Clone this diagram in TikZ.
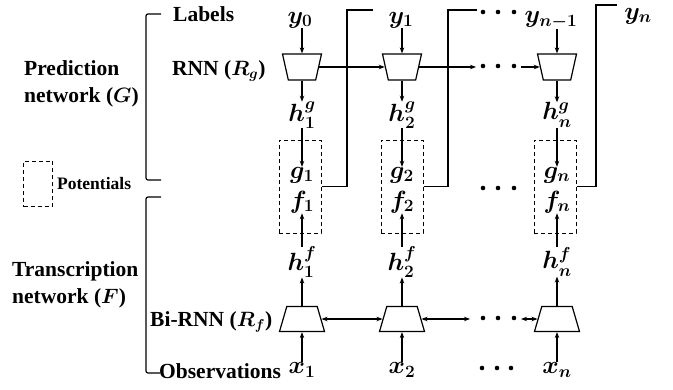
\documentclass[tikz,border=0pt]{standalone}
\usepackage{fontspec}
\setmainfont{Liberation Serif}
\usepackage{amsmath}
\usetikzlibrary{shapes.geometric,arrows.meta}
\begin{document}
\begin{tikzpicture}[x=1pt,y=-1pt,
  lbl/.style={font=\fontsize{21.5}{27}\selectfont\bfseries\boldmath, inner sep=0pt},
  potlbl/.style={font=\fontsize{17.5}{19}\selectfont\bfseries, inner sep=0pt},
  var/.style={font=\fontsize{27}{29}\selectfont\boldmath, inner sep=0pt},
  rnnbox/.style={draw, trapezium, trapezium stretches=true, inner sep=1pt, line width=1.2pt, minimum width=39pt, minimum height=26pt, trapezium angle=78, shape border rotate=180},
  birnnbox/.style={draw, trapezium, trapezium stretches=true, inner sep=1pt, line width=1.2pt, minimum width=45pt, minimum height=25pt, trapezium angle=76.5},
  potbox/.style={draw, dash pattern=on 4pt off 3pt, line width=1pt, minimum width=42pt, minimum height=93pt, inner sep=0pt},
  arr/.style={-{Stealth[length=6pt,width=4.5pt]}, line width=1.2pt},
  darr/.style={{Stealth[length=6pt,width=4.5pt]}-{Stealth[length=6pt,width=4.5pt]}, line width=1.2pt},
  wire/.style={line width=1.2pt}
]
\useasboundingbox (0,0) rectangle (673,389);

% label row
\node[var] (y0) at (300,20) {$y_0$};
\node[var] (y1) at (401,20) {$y_1$};
\node[var] (yn1) at (551,20) {$y_{n-1}$};
\node[var] (yn) at (638,16) {$y_n$};

% RNN (R_g)
\node[rnnbox] (rg1) at (302,67) {};
\node[rnnbox] (rg2) at (402,67) {};
\node[rnnbox] (rgn) at (557,67) {};

% h^g
\node[var] (hg1) at (302,115) {$h_1^g$};
\node[var] (hg2) at (402,115) {$h_2^g$};
\node[var] (hgn) at (557,115) {$h_n^g$};

% potentials
\node[potbox] (p1) at (300,186.5) {};
\node[potbox] (p2) at (402,186.5) {};
\node[potbox] (pn) at (555,186.5) {};
\node[var] (g1) at (302,175) {$g_1$};
\node[var] (g2) at (402,175) {$g_2$};
\node[var] (gn) at (557,175) {$g_n$};
\node[var] (f1) at (302,202) {$f_1$};
\node[var] (f2) at (402,202) {$f_2$};
\node[var] (fn) at (557,202) {$f_n$};

% h^f
\node[var] (hf1) at (302,262) {$h_1^f$};
\node[var] (hf2) at (402,262) {$h_2^f$};
\node[var] (hfn) at (557,262) {$h_n^f$};

% Bi-RNN
\node[birnnbox] (rf1) at (302,319) {};
\node[birnnbox] (rf2) at (402,319) {};
\node[birnnbox] (rfn) at (557,319) {};

% observations
\node[var] (x1) at (302,370) {$x_1$};
\node[var] (x2) at (402,370) {$x_2$};
\node[var] (xn) at (557,370) {$x_n$};

% vertical arrows
\draw[arr] (y0.south -| rg1) -- (rg1);
\draw[arr] (y1.south -| rg2) -- (rg2);
\draw[arr] (yn1.south -| rgn) -- (rgn);
\foreach \i in {1,2,n}{
  \draw[arr] (rg\i) -- (hg\i);
  \draw[arr] (hg\i) -- (g\i);
  \draw[arr] (hf\i) -- (f\i);
  \draw[arr] (rf\i) -- (hf\i);
  \draw[arr] (x\i) -- (rf\i);
}

% horizontal RNN
\coordinate (ra) at (476,67);
\coordinate (rb) at (521,67);
\draw[arr] (rg1) -- (rg2);
\draw[arr] (rg2) -- (ra);
\draw[arr] (rb) -- (rgn);

% horizontal Bi-RNN
\coordinate (fa) at (470,319);
\coordinate (fb) at (521,319);
\draw[darr] (rf1) -- (rf2);
\draw[darr] (rf2) -- (fa);
\draw[darr] (fb) -- (rfn);

% dots
\foreach \y in {12,66,188,318}{
  \foreach \x in {483,498,514}{ \fill (\x,\y) circle (2.3pt); }
}
\foreach \x in {482,497,511}{ \fill (\x,368) circle (2.3pt); }

% feedback wires
\coordinate (t1) at (373,10);
\coordinate (t2) at (477,10);
\coordinate (tn) at (617,5);
\draw[wire] (p1.east) -| (347,10) -- (t1);
\draw[wire] (p2.east) -| (448,10) -- (t2);
\draw[wire] (pn.east) -| (596,5) -- (tn);

% brackets
\draw[wire, rounded corners=2pt] (161,14) -- (146,14) -- (146,180) -- (161,180);
\draw[wire, rounded corners=2pt] (161,197) -- (146,197) -- (146,373) -- (160,373);

% text labels
\node[lbl, anchor=west] (labels) at (173,14) {Labels};
\node[lbl, anchor=west] (rnn) at (172,71) {RNN ($R_g$)};
\node[lbl, anchor=west, align=left] (pred) at (24,84) {Prediction\\network ($G$)};
\node[lbl, anchor=west, align=left] (trans) at (12,285) {Transcription\\network ($F$)};
\node[lbl, anchor=west] (bi) at (150,322) {Bi-RNN ($R_f$)};
\node[lbl, anchor=west] (obs) at (159,371) {Observations};
\node[draw, dash pattern=on 4pt off 3pt, line width=1pt, minimum width=28.6pt, minimum height=45.7pt, inner sep=0pt] (potkey) at (38,184) {};
\node[potlbl, anchor=west] (pot) at (57,184) {Potentials};
\end{tikzpicture}
\end{document}
